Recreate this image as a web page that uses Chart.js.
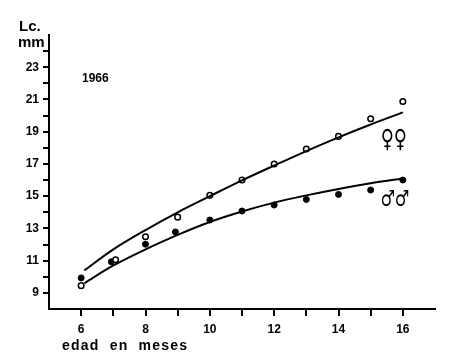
<!DOCTYPE html>
<html>
<head>
<meta charset="utf-8">
<script src="https://cdn.jsdelivr.net/npm/chart.js"></script>
<style>
  html, body { margin: 0; padding: 0; background: #fff; }
  #wrap { width: 450px; height: 362px; position: relative; }
</style>
</head>
<body>
<div id="wrap"><canvas id="c" width="450" height="362"></canvas></div>
<script>
// data (edad en meses / Lc. mm)
const femaleAge = [6, 7.07, 8, 9, 10, 11, 12, 13, 14, 15, 16];
const femaleLc  = [9.45, 11.06, 12.48, 13.7, 15.05, 16.0, 17.0, 17.93, 18.71, 19.8, 20.87];
const maleAge   = [6, 6.94, 8, 8.93, 10, 11, 12, 13, 14, 15, 16];
const maleLc    = [9.93, 10.93, 12.02, 12.78, 13.52, 14.08, 14.45, 14.8, 15.11, 15.38, 16.0];

// fitted curves as drawn
const curveAge    = [6.1, 7, 8, 9, 10, 11, 12, 13, 14, 15, 16];
const femaleCurve = [10.4, 11.7, 12.9, 14.0, 15.0, 15.98, 16.9, 17.8, 18.65, 19.45, 20.2];
const maleCurve   = [9.6, 10.7, 11.7, 12.6, 13.4, 14.05, 14.6, 15.05, 15.45, 15.8, 16.1];

const xTicks = [6, 8, 10, 12, 14, 16];
const yTicks = [9, 11, 13, 15, 17, 19, 21, 23];

const FONT = '"Liberation Sans", Arial, sans-serif';

function pts(xs, ys) { return xs.map((x, i) => ({ x: x, y: ys[i] })); }

const extraText = {
  id: 'extraText',
  afterDraw(chart) {
    const ctx = chart.ctx;
    const xs = chart.scales.x, ys = chart.scales.y;
    ctx.save();
    ctx.fillStyle = '#000';
    ctx.textBaseline = 'alphabetic';
    ctx.textAlign = 'left';
    ctx.font = 'bold 15px ' + FONT;
    ctx.fillText('Lc.', 19, 31);
    ctx.fillText('mm', 18, 47);
    ctx.font = 'bold 12px ' + FONT;
    ctx.fillText('1966', 82, 82);
    ctx.font = 'bold 14px ' + FONT;
    ctx.letterSpacing = '1.2px';
    ctx.fillText('edad  en  meses', 62, 350);
    ctx.letterSpacing = '0px';
    ctx.textAlign = 'center';
    // sex symbols, squeezed horizontally like the original
    ctx.font = '25px "DejaVu Sans", sans-serif';
    ctx.save();
    ctx.translate(xs.getPixelForValue(15.72), ys.getPixelForValue(18.06));
    ctx.scale(0.72, 1);
    ctx.fillText('\u2640\u2640', 0, 0);
    ctx.restore();
    ctx.font = '22px "DejaVu Sans", sans-serif';
    ctx.save();
    ctx.translate(xs.getPixelForValue(15.75), ys.getPixelForValue(14.4));
    ctx.scale(0.73, 1);
    ctx.fillText('\u2642\u2642', 0, 0);
    ctx.restore();
    ctx.restore();
  }
};

new Chart(document.getElementById('c'), {
  type: 'scatter',
  data: {
    datasets: [
      {
        type: 'line', data: pts(curveAge, femaleCurve),
        borderColor: '#000', borderWidth: 2, pointRadius: 0,
        cubicInterpolationMode: 'monotone', fill: false
      },
      {
        type: 'line', data: pts(curveAge, maleCurve),
        borderColor: '#000', borderWidth: 2, pointRadius: 0,
        cubicInterpolationMode: 'monotone', fill: false
      },
      {
        data: pts(femaleAge, femaleLc),
        pointRadius: 2.8, pointBackgroundColor: '#fff',
        pointBorderColor: '#000', pointBorderWidth: 1.5
      },
      {
        data: pts(maleAge, maleLc),
        pointRadius: 3, pointBackgroundColor: '#000',
        pointBorderColor: '#000', pointBorderWidth: 1
      }
    ]
  },
  options: {
    responsive: false,
    animation: false,
    layout: { padding: { left: 0, right: 15, top: 35, bottom: 0 } },
    plugins: { legend: { display: false }, tooltip: { enabled: false } },
    scales: {
      x: {
        type: 'linear', min: 5, max: 17,
        afterFit: s => { s.height = 53; },
        afterBuildTicks: s => { s.ticks = [7, 9, 11, 13, 15].concat(xTicks).sort((a, b) => a - b).map(v => ({ value: v })); },
        ticks: {
          color: '#000', padding: 6,
          font: { family: FONT, size: 12, weight: 'bold' },
          callback: v => xTicks.includes(v) ? String(v) : ''
        },
        grid: { drawOnChartArea: false, drawTicks: true, tickLength: 7, color: '#000', lineWidth: 2 },
        border: { display: true, color: '#000', width: 2 }
      },
      y: {
        type: 'linear', min: 8, max: 25,
        afterFit: s => { s.width = 49; },
        afterBuildTicks: s => {
          const t = [];
          for (let v = 9; v <= 24; v++) t.push({ value: v });
          s.ticks = t;
        },
        ticks: {
          color: '#000', padding: 4,
          font: { family: FONT, size: 12, weight: 'bold' },
          callback: v => yTicks.includes(v) ? String(v) : ''
        },
        grid: { drawOnChartArea: false, drawTicks: true, tickLength: 6, color: '#000', lineWidth: 2 },
        border: { display: true, color: '#000', width: 2 }
      }
    }
  },
  plugins: [extraText]
});
</script>
</body>
</html>
